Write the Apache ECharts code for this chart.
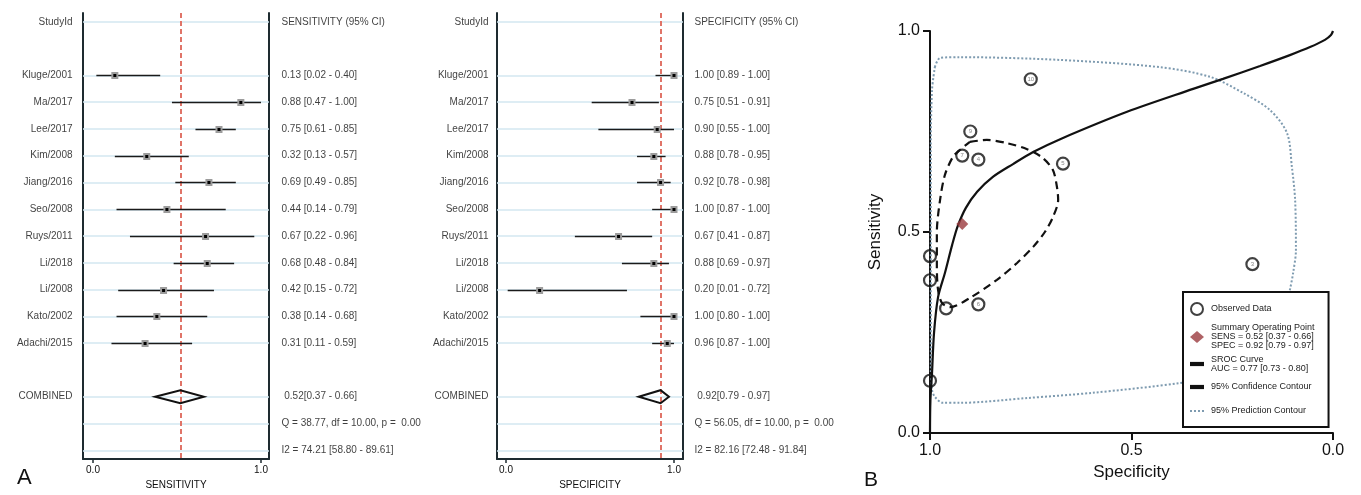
<!DOCTYPE html>
<html><head><meta charset="utf-8">
<script src="https://cdn.jsdelivr.net/npm/echarts@6/dist/echarts.min.js"></script>
<style>html,body{margin:0;padding:0;background:#fff}#c{width:1361px;height:495px}</style>
</head><body><div id="c"></div>
<script>
// ---------- data ----------
const studies = ["Kluge/2001","Ma/2017","Lee/2017","Kim/2008","Jiang/2016","Seo/2008","Ruys/2011","Li/2018","Li/2008","Kato/2002","Adachi/2015"];
const sens   = [0.13,0.88,0.75,0.32,0.69,0.44,0.67,0.68,0.42,0.38,0.31];
const sensLo = [0.02,0.47,0.61,0.13,0.49,0.14,0.22,0.48,0.15,0.14,0.11];
const sensHi = [0.40,1.00,0.85,0.57,0.85,0.79,0.96,0.84,0.72,0.68,0.59];
const spec   = [1.00,0.75,0.90,0.88,0.92,1.00,0.67,0.88,0.20,1.00,0.96];
const specLo = [0.89,0.51,0.55,0.78,0.78,0.87,0.41,0.69,0.01,0.80,0.87];
const specHi = [1.00,0.91,1.00,0.95,0.98,1.00,0.87,0.97,0.72,1.00,1.00];
const pooledSens = [0.52,0.37,0.66];
const pooledSpec = [0.92,0.79,0.97];
const sensStats = ["Q = 38.77, df = 10.00, p =  0.00","I2 = 74.21 [58.80 - 89.61]"];
const specStats = ["Q = 56.05, df = 10.00, p =  0.00","I2 = 82.16 [72.48 - 91.84]"];
const forestTicks = [0, 1];
const pointIds = ["","10","9","6","7","","5","4","3","",""];
const aucText = "AUC = 0.77 [0.73 - 0.80]";
// SROC curve (specificity, sensitivity)
const srocSpec = [1.000,0.999,0.995,0.990,0.980,0.963,0.945,0.931,0.911,0.883,0.844,0.794,0.744,0.677,0.511,0.347,0.273,0.181,0.107,0.057,0.020,0.005,0.000];
const srocSens = [0.000,0.080,0.149,0.249,0.338,0.398,0.468,0.515,0.560,0.600,0.637,0.669,0.699,0.731,0.799,0.856,0.881,0.913,0.940,0.960,0.978,0.990,1.000];
// 95% confidence contour
const confSpec = [0.901,0.859,0.809,0.759,0.720,0.695,0.685,0.682,0.695,0.715,0.744,0.784,0.834,0.901,0.950,0.970,0.980,0.983,0.983,0.975,0.963,0.943,0.926,0.901];
const confSens = [0.724,0.729,0.721,0.706,0.684,0.654,0.612,0.580,0.537,0.500,0.463,0.423,0.381,0.336,0.313,0.323,0.356,0.418,0.498,0.580,0.642,0.687,0.704,0.724];
// 95% prediction contour
const predSpec = [0.988,0.975,0.926,0.677,0.429,0.305,0.223,0.156,0.114,0.102,0.094,0.092,0.099,0.107,0.119,0.156,0.231,0.305,0.380,0.596,0.759,0.926,0.968,0.988,0.995,0.998,0.998,0.998,0.995,0.988];
const predSens = [0.910,0.933,0.935,0.928,0.910,0.886,0.846,0.803,0.746,0.662,0.580,0.455,0.398,0.356,0.306,0.231,0.169,0.139,0.124,0.100,0.087,0.075,0.075,0.090,0.107,0.157,0.331,0.704,0.853,0.910];

// ---------- helpers ----------
const FONT = "'Liberation Sans', Arial, sans-serif";
const TXT = '#0e0e0e';
const FRAME = '#1e2b30';
const gridRows = [0,2,3,4,5,6,7,8,9,10,11,12,14,15,16];
const f2 = v => v.toFixed(2);

function forestSeries(g, est, lo, hi, pooled, stats, header, xmin, xmax, leftDist, rightDist) {
  const xi = g, yi = 2 * g;
  const leftData = [[xmin, 0, 'StudyId']]
    .concat(studies.map((s, i) => [xmin, i + 2, s]))
    .concat([[xmin, 14, 'COMBINED']]);
  const rightData = [[xmax, 0, header]]
    .concat(est.map((v, i) => [xmax, i + 2, f2(v) + ' [' + f2(lo[i]) + ' - ' + f2(hi[i]) + ']']))
    .concat([[xmax, 14, ' ' + f2(pooled[0]) + '[' + f2(pooled[1]) + ' - ' + f2(pooled[2]) + ']'],
             [xmax, 15, stats[0]], [xmax, 16, stats[1]]]);
  const lbl = (pos, dist) => ({show: true, position: pos, distance: dist, formatter: p => p.data[2],
    fontSize: 10, fontFamily: FONT, color: TXT});
  return [
    {type: 'scatter', xAxisIndex: xi, yAxisIndex: yi, data: leftData, symbolSize: 1, clip: false,
     itemStyle: {color: 'rgba(0,0,0,0)'}, label: lbl('left', leftDist), z: 1, silent: true,
     markLine: {silent: true, z: 1, symbol: ['none','none'], label: {show: false},
       lineStyle: {color: '#d3e7f1', width: 1.5, type: 'solid'},
       data: gridRows.map(r => ({yAxis: r}))}},
    {type: 'scatter', xAxisIndex: xi, yAxisIndex: yi, data: rightData, symbolSize: 1, clip: false,
     itemStyle: {color: 'rgba(0,0,0,0)'}, label: lbl('right', rightDist), z: 2, silent: true,
     markLine: {silent: true, z: 2, symbol: ['none','none'], label: {show: false},
       lineStyle: {color: '#e07468', width: 2, type: [5, 3]},
       data: [{xAxis: pooled[0]}]}},
    {type: 'custom', xAxisIndex: xi, yAxisIndex: yi, z: 6, silent: true,
     data: est.map((v, i) => [i + 2, v, lo[i], hi[i]]),
     encode: {x: [1, 2, 3], y: 0},
     renderItem: (params, api) => {
       const r = api.value(0);
       const a = api.coord([api.value(2), r]), b = api.coord([api.value(3), r]), p = api.coord([api.value(1), r]);
       const y = Math.round(p[1]) + 0.5;
       return {type: 'group', children: [
         {type: 'line', shape: {x1: a[0], y1: y, x2: b[0], y2: y}, style: {stroke: '#1a1a1a', lineWidth: 1.4}},
         {type: 'rect', shape: {x: p[0] - 3.5, y: y - 3.5, width: 7, height: 7}, style: {fill: '#9c9c9c'}},
         {type: 'rect', shape: {x: p[0] - 1.5, y: y - 1.5, width: 3, height: 3}, style: {fill: '#000'}}
       ]};
     }},
    {type: 'custom', xAxisIndex: xi, yAxisIndex: yi, z: 6, silent: true,
     data: [[14, pooled[0], pooled[1], pooled[2]]],
     encode: {x: [1, 2, 3], y: 0},
     renderItem: (params, api) => {
       const r = api.value(0);
       const l = api.coord([api.value(2), r]), h = api.coord([api.value(3), r]), e = api.coord([api.value(1), r]);
       return {type: 'polygon', shape: {points: [[l[0], l[1]], [e[0], e[1] - 6.5], [h[0], h[1]], [e[0], e[1] + 6.5]]},
               style: {fill: 'rgba(255,255,255,0)', stroke: '#111', lineWidth: 2}};
     }}
  ];
}

function forestX(g, xmin, xmax, title) {
  return {gridIndex: g, type: 'value', min: xmin, max: xmax, splitLine: {show: false},
    axisLine: {show: true, onZero: false, lineStyle: {color: FRAME, width: 2}},
    axisTick: {show: true, customValues: forestTicks, length: 4, lineStyle: {color: FRAME, width: 1.5}},
    axisLabel: {show: true, customValues: forestTicks, formatter: v => v.toFixed(1), fontSize: 10, margin: 6, color: TXT, fontFamily: FONT},
    name: title, nameLocation: 'middle', nameGap: 17, nameTextStyle: {fontSize: 10, color: TXT, fontFamily: FONT}};
}
function forestY(g, pos) {
  return {gridIndex: g, type: 'value', min: -0.33, max: 16.33, inverse: true, position: pos,
    axisLine: {show: true, onZero: false, lineStyle: {color: FRAME, width: 2}},
    axisTick: {show: false}, axisLabel: {show: false}, splitLine: {show: false}};
}

const sMin = -0.0595, sMax = 1.0476, pMin = -0.0536, pMax = 1.0536;

const sumName = 'Summary Operating Point\nSENS = ' + f2(pooledSens[0]) + ' [' + f2(pooledSens[1]) + ' - ' + f2(pooledSens[2]) + ']\nSPEC = ' + f2(pooledSpec[0]) + ' [' + f2(pooledSpec[1]) + ' - ' + f2(pooledSpec[2]) + ']';
const srocName = 'SROC Curve\n' + aucText;

const ICON_LINE = 'path://M0,0h10v3h-10z';
const ICON_DOT = 'path://M0,0h2v2h-2z M4,0h2v2h-2z M8,0h2v2h-2z M12,0h2v2h-2z';

const option = {
  animation: false,
  backgroundColor: '#fff',
  textStyle: {fontFamily: FONT},
  grid: [
    {left: 83, top: 13, width: 186, height: 453},
    {left: 497, top: 13, width: 186, height: 453},
    {left: 930, top: 31, width: 403, height: 402}
  ],
  xAxis: [
    forestX(0, sMin, sMax, 'SENSITIVITY'),
    forestX(1, pMin, pMax, 'SPECIFICITY'),
    {gridIndex: 2, type: 'value', min: 0, max: 1, interval: 0.5, inverse: true, splitLine: {show: false},
     axisLine: {onZero: false, lineStyle: {color: '#111', width: 2}},
     axisTick: {length: 7, lineStyle: {color: '#111', width: 2}},
     axisLabel: {fontSize: 16, margin: 10, color: '#111', formatter: v => v.toFixed(1)},
     name: 'Specificity', nameLocation: 'middle', nameGap: 31, nameTextStyle: {fontSize: 17, color: '#111'}}
  ],
  yAxis: [
    forestY(0, 'left'), forestY(0, 'right'),
    forestY(1, 'left'), forestY(1, 'right'),
    {gridIndex: 2, type: 'value', min: 0, max: 1, interval: 0.5, position: 'left', splitLine: {show: false},
     axisLine: {onZero: false, lineStyle: {color: '#111', width: 2}},
     axisTick: {length: 7, lineStyle: {color: '#111', width: 2}},
     axisLabel: {fontSize: 16, margin: 10, color: '#111', formatter: v => v.toFixed(1)},
     name: 'Sensitivity', nameLocation: 'middle', nameGap: 46, nameTextStyle: {fontSize: 17, color: '#111'}}
  ],
  legend: {
    left: 1183, top: 292, orient: 'vertical', backgroundColor: '#fff', borderColor: '#111', borderWidth: 2,
    padding: [7, 14, 6, 7], itemGap: 4.5, itemWidth: 14, itemHeight: 12, selectedMode: false, z: 10,
    textStyle: {fontSize: 9, color: '#222', fontFamily: FONT, lineHeight: 9, padding: [0, 0, 0, 2]},
    data: [
      {name: 'Observed Data', icon: 'circle', textStyle: {lineHeight: 20}},
      {name: sumName, icon: 'diamond'},
      {name: srocName, icon: ICON_LINE, itemStyle: {color: '#111'}},
      {name: '95% Confidence Contour', icon: ICON_LINE, itemStyle: {color: '#111'}, textStyle: {lineHeight: 19}},
      {name: '95% Prediction Contour', icon: ICON_DOT, itemStyle: {color: '#7e9bb0'}, textStyle: {lineHeight: 20}}
    ]
  },
  graphic: [
    {type: 'text', x: 17, y: 478, style: {text: 'A', fontSize: 22, fill: '#111', fontFamily: FONT, verticalAlign: 'middle'}},
    {type: 'text', x: 864, y: 480, style: {text: 'B', fontSize: 21, fill: '#111', fontFamily: FONT, verticalAlign: 'middle'}}
  ],
  series: [
    ...forestSeries(0, sens, sensLo, sensHi, pooledSens, sensStats, 'SENSITIVITY (95% CI)', sMin, sMax, 10, 12),
    ...forestSeries(1, spec, specLo, specHi, pooledSpec, specStats, 'SPECIFICITY (95% CI)', pMin, pMax, 8, 11),
    {name: '95% Prediction Contour', type: 'line', xAxisIndex: 2, yAxisIndex: 4, symbol: 'none', smooth: 0.3,
     data: predSpec.map((v, i) => [v, predSens[i]]), lineStyle: {color: '#7e9bb0', width: 2, type: 'dotted'},
     itemStyle: {color: '#7e9bb0'}, z: 2, silent: true},
    {name: '95% Confidence Contour', type: 'line', xAxisIndex: 2, yAxisIndex: 4, symbol: 'none', smooth: 0.3,
     data: confSpec.map((v, i) => [v, confSens[i]]), lineStyle: {color: '#111', width: 2.2, type: [8, 5]},
     itemStyle: {color: '#111'}, z: 3, silent: true},
    {name: srocName, type: 'line', xAxisIndex: 2, yAxisIndex: 4, symbol: 'none', smooth: 0.3,
     data: srocSpec.map((v, i) => [v, srocSens[i]]), lineStyle: {color: '#111', width: 2.2},
     itemStyle: {color: '#111'}, z: 3, silent: true},
    {name: 'Observed Data', type: 'scatter', xAxisIndex: 2, yAxisIndex: 4, symbol: 'circle', symbolSize: 12, clip: false,
     data: spec.map((v, i) => [v, sens[i], pointIds[i]]),
     itemStyle: {color: 'rgba(0,0,0,0)', borderColor: '#111', borderWidth: 2.2}, z: 5, silent: true,
     label: {show: true, position: 'inside', formatter: p => p.data[2], fontSize: 6, color: '#666'}},
    {name: sumName, type: 'scatter', xAxisIndex: 2, yAxisIndex: 4, symbol: 'diamond', symbolSize: 12,
     data: [[pooledSpec[0], pooledSens[0]]], itemStyle: {color: '#9b3b3e'}, z: 4, silent: true}
  ]
};
const chart = echarts.init(document.getElementById('c'), null, {renderer: 'canvas'});
chart.setOption(option);
</script></body></html>
